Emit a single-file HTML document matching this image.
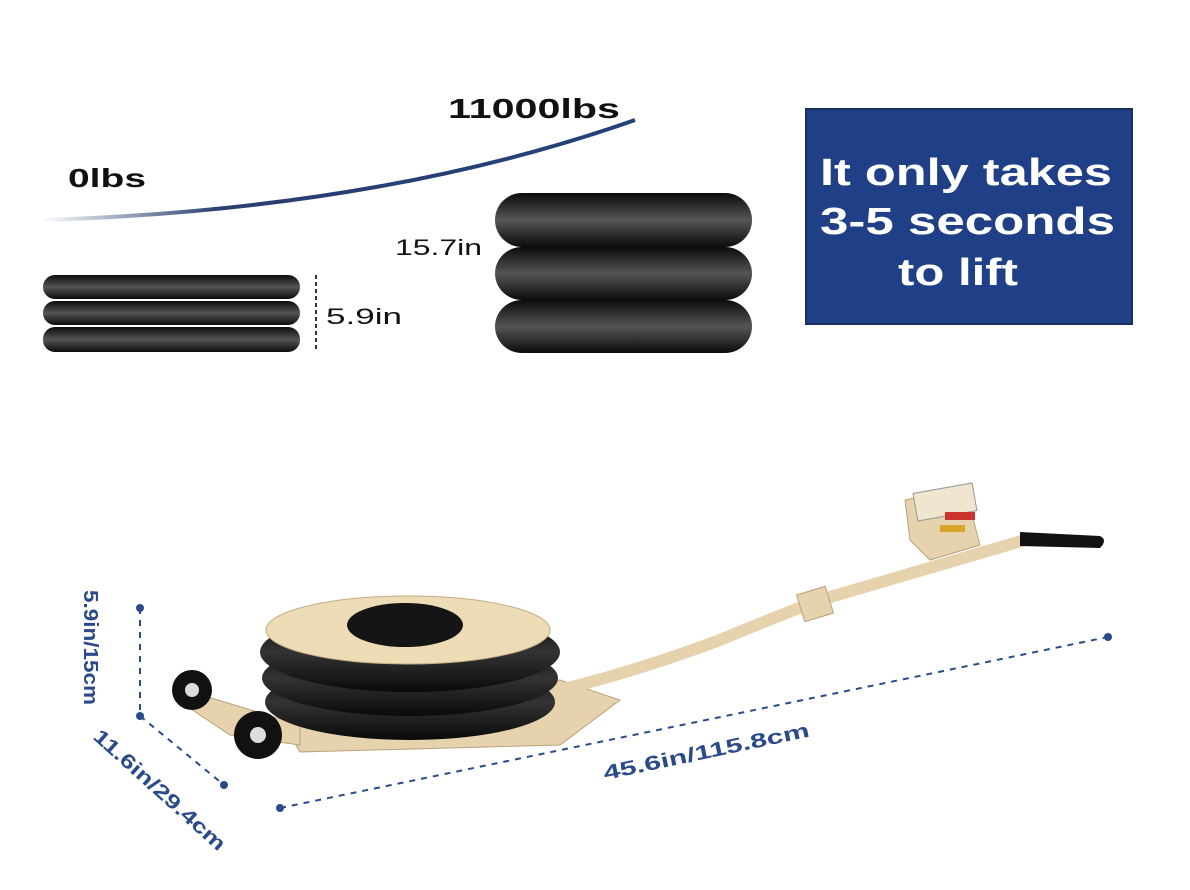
<!DOCTYPE html>
<html><head><meta charset="utf-8"><style>
html,body{margin:0;padding:0;background:#fff;}
svg{display:block;}
text{font-family:"Liberation Sans",sans-serif;}
</style></head><body>
<svg width="1190" height="890" viewBox="0 0 1190 890" xmlns="http://www.w3.org/2000/svg">
<defs>
<linearGradient id="pill" x1="0" y1="0" x2="0" y2="1">
<stop offset="0" stop-color="#0c0c0c"/><stop offset="0.5" stop-color="#555"/><stop offset="1" stop-color="#0c0c0c"/>
</linearGradient>
<linearGradient id="curve" x1="0" y1="0" x2="1" y2="0">
<stop offset="0" stop-color="#2a3f72" stop-opacity="0"/><stop offset="0.3" stop-color="#2a3f72"/><stop offset="1" stop-color="#23407a"/>
</linearGradient>
<linearGradient id="tire" x1="0" y1="0" x2="0" y2="1">
<stop offset="0" stop-color="#0a0a0a"/><stop offset="0.5" stop-color="#333"/><stop offset="1" stop-color="#0a0a0a"/>
</linearGradient>
</defs>
<text x="448" y="118" font-size="28" font-weight="bold" fill="#111" textLength="172" lengthAdjust="spacingAndGlyphs">11000lbs</text>
<text x="68" y="187" font-size="26" font-weight="bold" fill="#111" textLength="78" lengthAdjust="spacingAndGlyphs">0lbs</text>
<path d="M40 220 Q380 210 635 120" stroke="url(#curve)" stroke-width="4" fill="none"/>
<rect x="43" y="275" width="257" height="24" rx="12" fill="url(#pill)"/>
<rect x="43" y="301" width="257" height="24" rx="12" fill="url(#pill)"/>
<rect x="43" y="327" width="257" height="25" rx="12" fill="url(#pill)"/>
<line x1="316" y1="275" x2="316" y2="350" stroke="#333" stroke-width="2" stroke-dasharray="4,3"/>
<text x="326" y="324" font-size="22" fill="#111" textLength="76" lengthAdjust="spacingAndGlyphs">5.9in</text>
<rect x="495" y="193" width="257" height="54" rx="27" fill="url(#pill)"/>
<rect x="495" y="247" width="257" height="53" rx="27" fill="url(#pill)"/>
<rect x="495" y="300" width="257" height="53" rx="27" fill="url(#pill)"/>
<text x="395" y="255" font-size="22" fill="#111" textLength="87" lengthAdjust="spacingAndGlyphs">15.7in</text>
<rect x="806" y="109" width="326" height="215" fill="#1f3f87" stroke="#1a2f60" stroke-width="2"/>
<text x="820" y="185" font-size="38" font-weight="bold" fill="#fff" textLength="292" lengthAdjust="spacingAndGlyphs">It only takes</text>
<text x="820" y="234" font-size="38" font-weight="bold" fill="#fff" textLength="295" lengthAdjust="spacingAndGlyphs">3-5 seconds</text>
<text x="898" y="285" font-size="38" font-weight="bold" fill="#fff" textLength="120" lengthAdjust="spacingAndGlyphs">to lift</text>
<path d="M270 700 L560 680 L620 700 L560 745 L300 752 Z" fill="#e6d3ad" stroke="#b8a27a"/>
<path d="M185 690 L300 725 L300 745 L230 735 L185 705 Z" fill="#e6d3ad" stroke="#b8a27a"/>
<circle cx="192" cy="690" r="20" fill="#111"/><circle cx="192" cy="690" r="7" fill="#ddd"/>
<circle cx="258" cy="735" r="24" fill="#111"/><circle cx="258" cy="735" r="8" fill="#ddd"/>
<ellipse cx="410" cy="702" rx="145" ry="38" fill="url(#tire)"/>
<ellipse cx="410" cy="678" rx="148" ry="38" fill="url(#tire)"/>
<ellipse cx="410" cy="652" rx="150" ry="40" fill="url(#tire)"/>
<ellipse cx="408" cy="630" rx="142" ry="34" fill="#eedcb6" stroke="#c4ad83"/>
<ellipse cx="405" cy="625" rx="58" ry="22" fill="#151515"/>
<path d="M560 690 Q640 670 720 640 Q780 615 820 600 L1025 540" stroke="#e6d3ad" stroke-width="12" fill="none" stroke-linecap="round"/>
<rect x="800" y="590" width="30" height="28" fill="#e6d3ad" stroke="#b8a27a" transform="rotate(-17 815 604)"/>
<path d="M1020 532 L1100 536 Q1108 540 1100 548 L1020 546 Z" fill="#111"/>
<path d="M905 500 L965 488 L980 545 L930 560 L910 540 Z" fill="#e6d3ad" stroke="#b8a27a"/>
<rect x="915" y="488" width="60" height="28" fill="#f0e6d0" stroke="#999" transform="rotate(-10 945 502)"/>
<rect x="945" y="512" width="30" height="8" fill="#c9352a"/>
<rect x="940" y="525" width="25" height="7" fill="#d8a52a"/>
<g stroke="#2b4a8a" stroke-width="2" stroke-dasharray="6,6" fill="none">
<line x1="140" y1="608" x2="140" y2="716"/>
<line x1="140" y1="716" x2="224" y2="785"/>
<line x1="280" y1="808" x2="1108" y2="637"/>
</g>
<g fill="#2b4a8a">
<circle cx="140" cy="608" r="4"/><circle cx="140" cy="716" r="4"/><circle cx="224" cy="785" r="4"/>
<circle cx="280" cy="808" r="4"/><circle cx="1108" cy="637" r="4"/>
</g>
<text transform="translate(84,590) rotate(90)" font-size="20" font-weight="bold" fill="#2b4a8a" textLength="115" lengthAdjust="spacingAndGlyphs">5.9in/15cm</text>
<text transform="translate(92,738) rotate(42)" font-size="20" font-weight="bold" fill="#2b4a8a" textLength="170" lengthAdjust="spacingAndGlyphs">11.6in/29.4cm</text>
<text transform="translate(605,780) rotate(-12)" font-size="20" font-weight="bold" fill="#2b4a8a" textLength="210" lengthAdjust="spacingAndGlyphs">45.6in/115.8cm</text>
</svg>
</body></html>
